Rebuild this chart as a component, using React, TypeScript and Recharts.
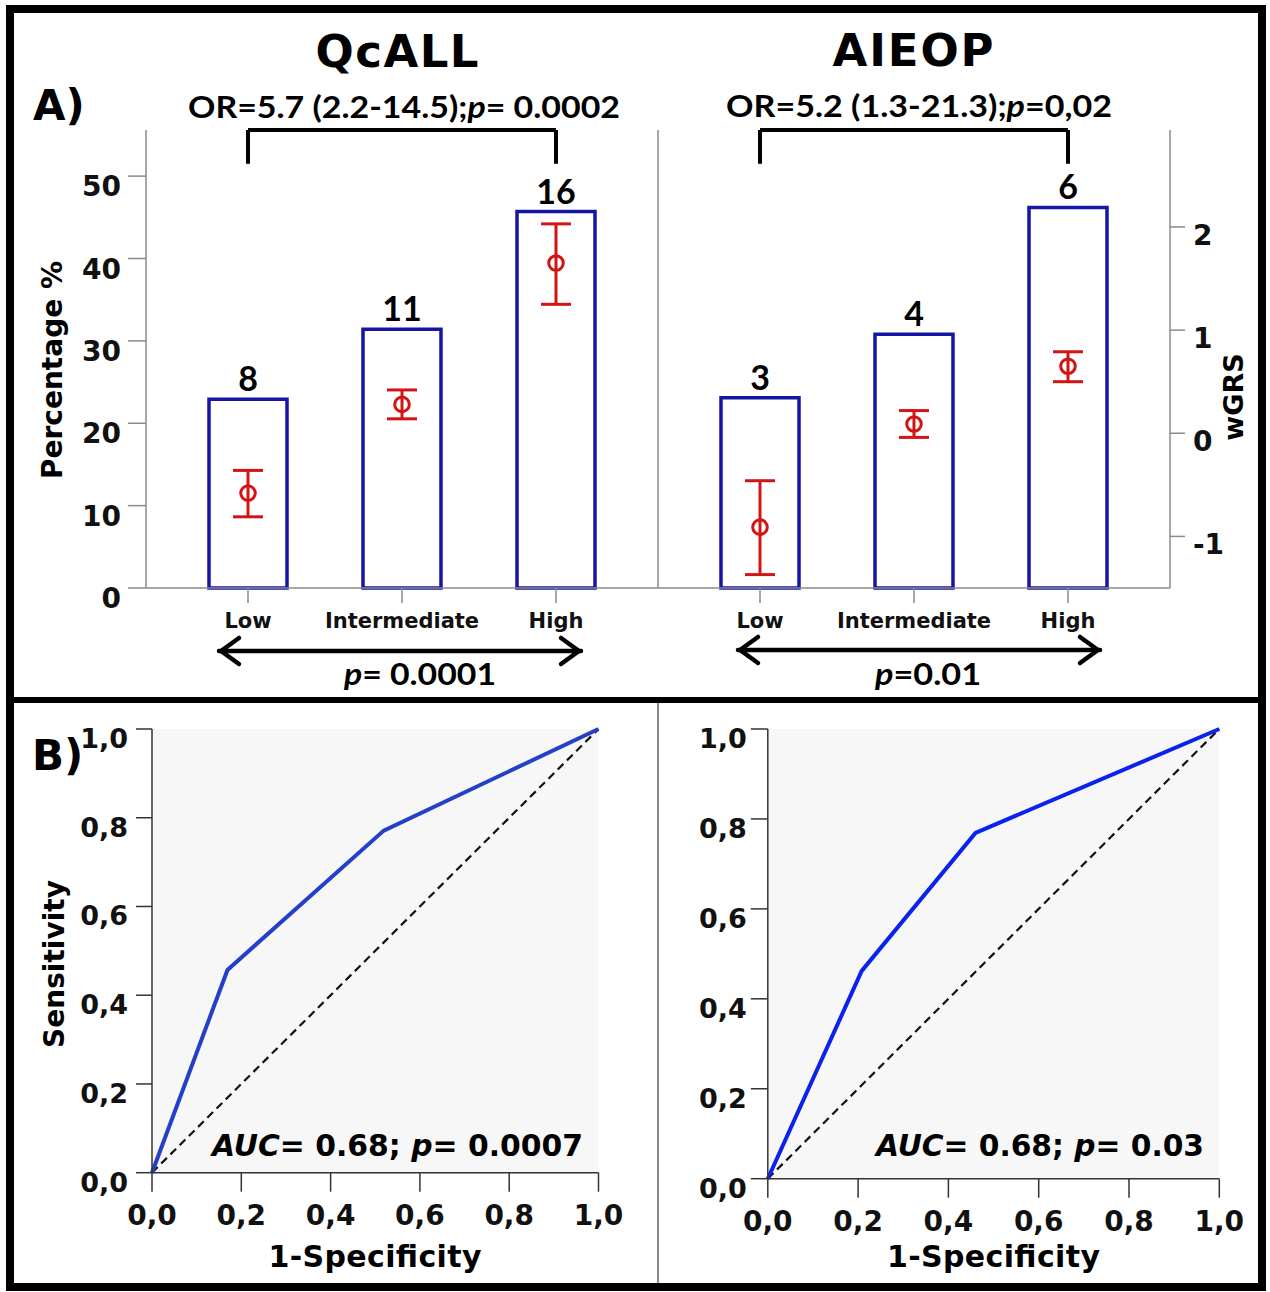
import React from 'react';
import {
  ComposedChart, LineChart, Bar, Scatter, Line, XAxis, YAxis, ErrorBar,
  LabelList, ReferenceLine, CartesianGrid,
} from 'recharts';

const GROUPS = ['Low', 'Intermediate', 'High'];

// QcALL cohort: relapse counts, percentage per risk group, wGRS mean with CI
const QCALL_N = [8, 11, 16];
const QCALL_PCT = [22.9, 31.4, 45.7];
const QCALL_WGRS = [-0.58, 0.28, 1.65];
const QCALL_WGRS_LO = [-0.81, 0.14, 1.25];
const QCALL_WGRS_HI = [-0.36, 0.42, 2.03];

// AIEOP cohort
const AIEOP_N = [3, 4, 6];
const AIEOP_PCT = [23.1, 30.8, 46.2];
const AIEOP_WGRS = [-0.91, 0.09, 0.65];
const AIEOP_WGRS_LO = [-1.37, -0.04, 0.5];
const AIEOP_WGRS_HI = [-0.46, 0.22, 0.79];

// ROC curves (1-specificity, sensitivity)
const ROC_QCALL_FPR = [0, 0.169, 0.519, 1];
const ROC_QCALL_TPR = [0, 0.457, 0.771, 1];
const ROC_AIEOP_FPR = [0, 0.208, 0.46, 1];
const ROC_AIEOP_TPR = [0, 0.462, 0.769, 1];

const PCT_TICKS = [0, 10, 20, 30, 40, 50];
const WGRS_TICKS = [-1, 0, 1, 2];
const ROC_TICKS = [0, 0.2, 0.4, 0.6, 0.8, 1];

const PCT_DOMAIN: [number, number] = [0, 55.6];
const WGRS_DOMAIN: [number, number] = [-1.5, 2.94];
const BRACKET_TOP = 55.6;
const BRACKET_LEG = 51.5;

const COMIC = "'DejaVu Sans', sans-serif";
const SANS = "Lato, 'Open Sans', sans-serif";
const BOX = '#8a8a8a';
const BLUE = '#1616a4';
const RED = '#d21414';

const makeRows = (n: number[], pct: number[], w: number[], lo: number[], hi: number[]) =>
  GROUPS.map((g, i) => ({ grp: g, n: n[i], pct: pct[i], w: w[i], err: [w[i] - lo[i], hi[i] - w[i]] }));

const qcallRows = makeRows(QCALL_N, QCALL_PCT, QCALL_WGRS, QCALL_WGRS_LO, QCALL_WGRS_HI);
const aieopRows = makeRows(AIEOP_N, AIEOP_PCT, AIEOP_WGRS, AIEOP_WGRS_LO, AIEOP_WGRS_HI);

const toPoints = (xs: number[], ys: number[]) => xs.map((x, i) => ({ x, y: ys[i] }));
const DIAGONAL = [{ x: 0, y: 0 }, { x: 1, y: 1 }];

const comma = (v: number) => v.toFixed(1).replace('.', ',');

const PctTick = (p: any) => (
  <text x={p.x - 5} y={p.y + 20} textAnchor="end" fontFamily={COMIC} fontWeight="bold" fontSize={28} fill="#111">
    {p.payload.value}
  </text>
);

const WgrsTick = (p: any) => (
  <text x={p.x + 6} y={p.y + 18} textAnchor="start" fontFamily={COMIC} fontWeight="bold" fontSize={28} fill="#111">
    {String(p.payload.value)}
  </text>
);

const GroupTick = (p: any) => (
  <text x={p.x} y={p.y + 23} textAnchor="middle" fontFamily={COMIC} fontWeight="bold" fontSize={21} fill="#111">
    {p.payload.value}
  </text>
);

const CountLabel = (p: any) => {
  const vb = p.viewBox || p;
  return (
    <text x={vb.x + vb.width / 2} y={vb.y - 8} textAnchor="middle" fontFamily={SANS} fontWeight="bold" fontSize={34} fill="#000">
      {p.value}
    </text>
  );
};

const MeanDot = (p: any) => (
  <circle cx={p.cx} cy={p.cy} r={7.3} fill="none" stroke={RED} strokeWidth={3} />
);

function RiskPanel({ rows, isLeft, left, width }: { rows: any[]; isLeft: boolean; left: number; width: number }) {
  return (
    <div style={{ position: 'absolute', left, top: 0 }}>
      <ComposedChart width={width} height={700} data={rows}
        margin={{ top: 130, right: isLeft ? 42 : 0, bottom: 72, left: 0 }}>
        <XAxis dataKey="grp" height={40} padding={{ left: 25, right: 25 }} interval={0}
          tickSize={15} stroke={BOX} strokeWidth={1.5} tick={<GroupTick />} />
        <XAxis xAxisId="top" dataKey="grp" orientation="top" height={0} padding={{ left: 25, right: 25 }}
          tick={false} tickLine={false} stroke={BOX} strokeWidth={1.5} />
        <YAxis yAxisId="p" domain={PCT_DOMAIN} ticks={PCT_TICKS} width={isLeft ? 146 : 58}
          tick={isLeft ? <PctTick /> : false} tickLine={isLeft} tickSize={18} stroke={BOX} strokeWidth={1.5} />
        <YAxis yAxisId="w" orientation="right" domain={WGRS_DOMAIN} ticks={WGRS_TICKS} width={isLeft ? 0 : 100}
          tick={isLeft ? false : <WgrsTick />} tickLine={!isLeft} tickSize={15} stroke={BOX} strokeWidth={1.5} />
        <Bar yAxisId="p" dataKey="pct" barSize={78} fill="#fff" stroke={BLUE} strokeWidth={3.5} isAnimationActive={false}>
          <LabelList dataKey="n" content={CountLabel} />
        </Bar>
        <Scatter yAxisId="w" dataKey="w" shape={MeanDot} isAnimationActive={false}>
          <ErrorBar dataKey="err" direction="y" width={15} stroke={RED} strokeWidth={3} />
        </Scatter>
        <ReferenceLine yAxisId="p" segment={[{ x: 'Low', y: BRACKET_TOP }, { x: 'High', y: BRACKET_TOP }]}
          stroke="#000" strokeWidth={4} />
        <ReferenceLine yAxisId="p" segment={[{ x: 'Low', y: BRACKET_LEG }, { x: 'Low', y: BRACKET_TOP }]}
          stroke="#000" strokeWidth={4} />
        <ReferenceLine yAxisId="p" segment={[{ x: 'High', y: BRACKET_LEG }, { x: 'High', y: BRACKET_TOP }]}
          stroke="#000" strokeWidth={4} />
      </ComposedChart>
    </div>
  );
}

function RocPanel({ points, left, width, yAxisWidth, right, bottom, yTickSize, yDx, color }: any) {
  const YTick = (p: any) => (
    <text x={p.x + yDx} y={p.y + 19} textAnchor="end" fontFamily={COMIC} fontWeight="bold" fontSize={27} fill="#111">
      {comma(p.payload.value)}
    </text>
  );
  const XTick = (p: any) => (
    <text x={p.x} y={p.y + 31} textAnchor="middle" fontFamily={COMIC} fontWeight="bold" fontSize={28} fill="#111">
      {comma(p.payload.value)}
    </text>
  );
  return (
    <div style={{ position: 'absolute', left, top: 700 }}>
      <LineChart width={width} height={590} margin={{ top: 29, right, bottom, left: 0 }}>
        <CartesianGrid fill="#f7f7f7" horizontal={false} vertical={false} />
        <XAxis type="number" dataKey="x" domain={[0, 1]} ticks={ROC_TICKS} height={60} tickSize={19}
          stroke="#333" strokeWidth={1.5} tick={<XTick />} />
        <XAxis xAxisId="top" type="number" dataKey="x" domain={[0, 1]} orientation="top" height={0}
          tick={false} tickLine={false} stroke="#777" />
        <YAxis type="number" domain={[0, 1]} ticks={ROC_TICKS} width={yAxisWidth} tickSize={yTickSize}
          stroke="#333" strokeWidth={1.5} tick={<YTick />} />
        <YAxis yAxisId="r" orientation="right" domain={[0, 1]} width={0} tick={false} tickLine={false} stroke="#777" />
        <Line data={DIAGONAL} dataKey="y" stroke="#111" strokeWidth={2.2} strokeDasharray="8 5" dot={false}
          isAnimationActive={false} />
        <Line data={points} dataKey="y" stroke={color} strokeWidth={4} dot={false} isAnimationActive={false} />
      </LineChart>
    </div>
  );
}

function Arrow({ x1, x2, y }: { x1: number; x2: number; y: number }) {
  return (
    <g stroke="#000" strokeWidth={4.5} fill="none" strokeLinecap="round" strokeLinejoin="round">
      <path d={`M${x1} ${y} L${x2} ${y}`} />
      <path d={`M${x1 + 20} ${y - 13} L${x1 + 2} ${y} L${x1 + 20} ${y + 13}`} />
      <path d={`M${x2 - 20} ${y - 13} L${x2 - 2} ${y} L${x2 - 20} ${y + 13}`} />
    </g>
  );
}

export default function App() {
  return (
    <div style={{ position: 'absolute', left: 0, top: 0, width: 1270, height: 1292, background: '#fff', overflow: 'hidden' }}>
      <RiskPanel rows={qcallRows} isLeft left={0} width={700} />
      <RiskPanel rows={aieopRows} isLeft={false} left={600} width={670} />

      <RocPanel points={toPoints(ROC_QCALL_FPR, ROC_QCALL_TPR)} left={0} width={660} yAxisWidth={152}
        right={61.5} bottom={57.3} yTickSize={16} yDx={-6} color="#2440c8" />
      <RocPanel points={toPoints(ROC_AIEOP_FPR, ROC_AIEOP_TPR)} left={660} width={610} yAxisWidth={107.8}
        right={50.7} bottom={51.3} yTickSize={17} yDx={-2} color="#0a22f0" />

      <svg width={1270} height={1292} style={{ position: 'absolute', left: 0, top: 0, pointerEvents: 'none' }}>
        <text x={397} y={67} textAnchor="middle" fontFamily={COMIC} fontWeight="bold" fontSize={45} textLength={163}>QcALL</text>
        <text x={913} y={66} textAnchor="middle" fontFamily={COMIC} fontWeight="bold" fontSize={45} textLength={161}>AIEOP</text>
        <text x={33} y={120} fontFamily={COMIC} fontWeight="bold" fontSize={42}>A)</text>

        <text x={188} y={118} fontFamily={SANS} fontWeight="bold" fontSize={31} textLength={432} lengthAdjust="spacingAndGlyphs">
          OR=5.7 (2.2-14.5);<tspan fontStyle="italic">p</tspan>= 0.0002
        </text>
        <text x={726} y={117} fontFamily={SANS} fontWeight="bold" fontSize={31} textLength={386} lengthAdjust="spacingAndGlyphs">
          OR=5.2 (1.3-21.3);<tspan fontStyle="italic">p</tspan>=0,02
        </text>

        <text transform="translate(52 370) rotate(-90)" textAnchor="middle" dominantBaseline="central"
          fontFamily={COMIC} fontWeight="bold" fontSize={28}>Percentage %</text>
        <text transform="translate(1233 397) rotate(-90)" textAnchor="middle" dominantBaseline="central"
          fontFamily={COMIC} fontWeight="bold" fontSize={27}>wGRS</text>

        <Arrow x1={219} x2={581} y={651} />
        <Arrow x1={738} x2={1100} y={650} />
        <text x={344} y={685} fontFamily={SANS} fontWeight="bold" fontSize={31} textLength={152} lengthAdjust="spacingAndGlyphs">
          <tspan fontStyle="italic">p</tspan>= 0.0001
        </text>
        <text x={875} y={685} fontFamily={SANS} fontWeight="bold" fontSize={31} textLength={106} lengthAdjust="spacingAndGlyphs">
          <tspan fontStyle="italic">p</tspan>=0.01
        </text>

        <text x={32} y={770} fontFamily={COMIC} fontWeight="bold" fontSize={42}>B)</text>
        <text transform="translate(54 964) rotate(-90)" textAnchor="middle" dominantBaseline="central"
          fontFamily={COMIC} fontWeight="bold" fontSize={28}>Sensitivity</text>
        <text x={375} y={1267} textAnchor="middle" fontFamily={COMIC} fontWeight="bold" fontSize={30} textLength={213}>1-Specificity</text>
        <text x={993.5} y={1267} textAnchor="middle" fontFamily={COMIC} fontWeight="bold" fontSize={30} textLength={213}>1-Specificity</text>
        <text x={212} y={1156} fontFamily={COMIC} fontWeight="bold" fontSize={30} textLength={371} lengthAdjust="spacingAndGlyphs">
          <tspan fontStyle="italic">AUC</tspan>= 0.68; <tspan fontStyle="italic">p</tspan>= 0.0007
        </text>
        <text x={876} y={1156} fontFamily={COMIC} fontWeight="bold" fontSize={30} textLength={328} lengthAdjust="spacingAndGlyphs">
          <tspan fontStyle="italic">AUC</tspan>= 0.68; <tspan fontStyle="italic">p</tspan>= 0.03
        </text>
      </svg>

      {/* frame and panel dividers */}
      <div style={{ position: 'absolute', left: 6, top: 5, width: 1260, height: 1286, border: '8px solid #000', boxSizing: 'border-box' }} />
      <div style={{ position: 'absolute', left: 6, top: 697, width: 1260, height: 6, background: '#000' }} />
      <div style={{ position: 'absolute', left: 657, top: 703, width: 2, height: 580, background: '#888' }} />
    </div>
  );
}
